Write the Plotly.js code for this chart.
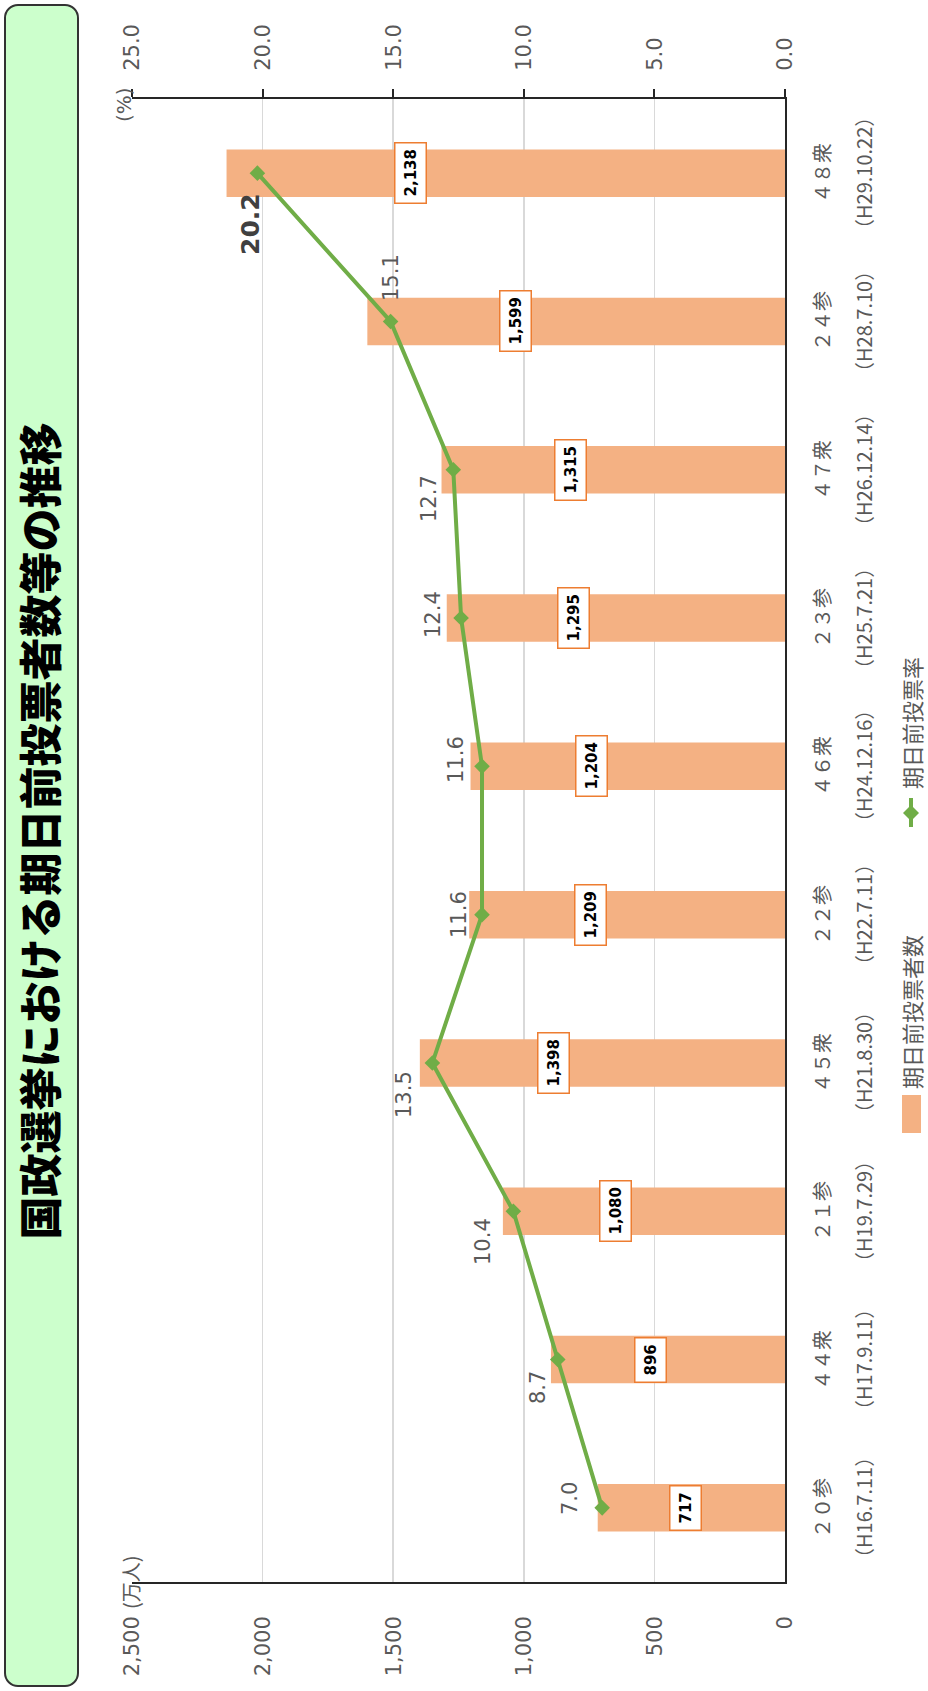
<!DOCTYPE html>
<html>
<head>
<meta charset="utf-8">
<script src="https://cdn.plot.ly/plotly-3.0.1.min.js"></script>
<style>
html,body{margin:0;padding:0;background:#fff;overflow:hidden;width:928px;height:1691px;}
#wrap{position:absolute;left:0;top:0;width:1691px;height:928px;transform-origin:0 0;transform:translate(0,1691px) rotate(-90deg);}
#tbox{position:absolute;left:4px;top:4px;width:1683px;height:75px;box-sizing:border-box;border:2px solid #333;border-radius:14px;background:#CCFFCC;}
#chart{position:absolute;left:0;top:0;width:1691px;height:928px;}
</style>
</head>
<body>
<div id="wrap">
  <div id="tbox"></div>
  <div id="chart"></div>
</div>
<script>
// ---- data ----
const categories = ['２０参','４４衆','２１参','４５衆','２２参','４６衆','２３参','４７衆','２４参','４８衆'];
const dates = ['（H16.7.11）','（H17.9.11）','（H19.7.29）','（H21.8.30）','（H22.7.11）','（H24.12.16）','（H25.7.21）','（H26.12.14）','（H28.7.10）','（H29.10.22）'];
const voters = [717, 896, 1080, 1398, 1209, 1204, 1295, 1315, 1599, 2138]; // 万人
const rates = [7.0, 8.7, 10.4, 13.5, 11.6, 11.6, 12.4, 12.7, 15.1, 20.2];   // %
const leftTicks = [0, 500, 1000, 1500, 2000, 2500];
const rightTicks = [0, 5, 10, 15, 20, 25];
const seriesNames = ['期日前投票者数', '期日前投票率'];
const titleText = '国政選挙における期日前投票者数等の推移';

// ---- layout helpers ----
const W = 1691, H = 928;
const M = {l:109, r:99, t:132, b:143};
const PW = W - M.l - M.r, PH = H - M.t - M.b;
const px = u => (u - M.l) / PW;
const py = v => (H - M.b - v) / PH;
const rateLabelShift = [[9,32],[-28,20],[-30,30],[-32,28],[0,23],[7,26],[4,28],[-29,24],[44,0],[-51,7]];

const GRAY = '#595959';
const NUMFONT = 'DejaVu Sans, sans-serif';
const JPFONT = 'Noto Sans CJK JP, sans-serif';

const traces = [
  {
    type:'bar', x:categories, y:voters, yaxis:'y', name:seriesNames[0],
    marker:{color:'#F4B183'}, width:0.32, hoverinfo:'skip', showlegend:false
  },
  {
    type:'scatter', mode:'lines+markers', x:categories, y:rates, yaxis:'y2', name:seriesNames[1],
    line:{color:'#70AD47', width:4}, marker:{symbol:'diamond', size:12, color:'#70AD47'},
    hoverinfo:'skip', showlegend:false
  }
];

const annotations = [];
// bar value labels
voters.forEach((v,i)=>{
  annotations.push({
    x:categories[i], y:0.74*v-150, xref:'x', yref:'y', showarrow:false,
    text:v.toLocaleString('en-US'),
    font:{family:NUMFONT, size:15, color:'#000', weight:'bold'},
    bgcolor:'#fff', bordercolor:'#ED7D31', borderwidth:1.5, borderpad:6
  });
});
// rate labels
rates.forEach((r,i)=>{
  const last = i === rates.length-1;
  annotations.push({
    x:categories[i], y:r, xref:'x', yref:'y2', showarrow:false,
    text:r.toFixed(1), xshift:rateLabelShift[i][0], yshift:rateLabelShift[i][1],
    font: last ? {family:NUMFONT, size:25, color:'#404040', weight:'bold'} : {family:NUMFONT, size:21, color:GRAY}
  });
});
// category labels (two lines)
categories.forEach((c,i)=>{
  annotations.push({x:c, y:0, xref:'x', yref:'paper', yanchor:'middle', yshift:-36, showarrow:false,
    text:c, font:{family:JPFONT, size:20, color:GRAY}});
  annotations.push({x:c, y:0, xref:'x', yref:'paper', yanchor:'middle', yshift:-78, showarrow:false,
    text:dates[i], font:{family:JPFONT, size:20, color:GRAY}});
});
// axis unit labels
annotations.push({x:0, y:1, xref:'paper', yref:'paper', xanchor:'center', yanchor:'middle', yshift:2, showarrow:false,
  text:'(万人)', font:{family:JPFONT, size:20, color:GRAY}});
annotations.push({x:1, y:1, xref:'paper', yref:'paper', xanchor:'center', yanchor:'middle', xshift:-6, yshift:8, showarrow:false,
  text:'(%)', font:{family:NUMFONT, size:20, color:GRAY}});
// legend texts
annotations.push({x:px(600), y:py(911), xref:'paper', yref:'paper', xanchor:'left', yanchor:'middle', showarrow:false,
  text:seriesNames[0], font:{family:JPFONT, size:22, color:GRAY}});
annotations.push({x:px(900), y:py(911), xref:'paper', yref:'paper', xanchor:'left', yanchor:'middle', showarrow:false,
  text:seriesNames[1], font:{family:JPFONT, size:22, color:GRAY}});

// legend symbols
const dc = [878, 911], dr = 8;
const shapes = [
  {type:'rect', xref:'paper', yref:'paper', x0:px(558), x1:px(596), y0:py(921), y1:py(902), fillcolor:'#F4B183', line:{width:0}},
  {type:'line', xref:'paper', yref:'paper', x0:px(864), x1:px(893), y0:py(911), y1:py(911), line:{color:'#70AD47', width:4}},
  {type:'path', xref:'paper', yref:'paper', fillcolor:'#70AD47', line:{width:0},
   path:`M${px(dc[0])},${py(dc[1]-dr)} L${px(dc[0]+dr)},${py(dc[1])} L${px(dc[0])},${py(dc[1]+dr)} L${px(dc[0]-dr)},${py(dc[1])} Z`}
];

const layout = {
  width:W, height:H, margin:M,
  paper_bgcolor:'rgba(0,0,0,0)', plot_bgcolor:'#fff',
  showlegend:false,
  title:{text:titleText, font:{family:JPFONT, size:43, color:'#000', weight:900},
    xref:'container', yref:'container', x:860/W, xanchor:'center', y:1-41.5/H, yanchor:'middle'},
  xaxis:{type:'category', range:[-0.5, 9.5], showticklabels:false, ticks:'',
    showline:true, linecolor:'#262626', linewidth:2, showgrid:false, zeroline:false, fixedrange:true},
  yaxis:{range:[0,2500], tickvals:leftTicks, ticktext:leftTicks.map(t=>t.toLocaleString('en-US')),
    showline:true, linecolor:'#262626', linewidth:2, ticks:'', ticklabelstandoff:28,
    gridcolor:'#D9D9D9', gridwidth:1.5, zeroline:false,
    tickfont:{family:NUMFONT, size:21, color:GRAY}, fixedrange:true},
  yaxis2:{range:[0,25], overlaying:'y', side:'right', tickvals:rightTicks, ticktext:rightTicks.map(t=>t.toFixed(1)),
    showline:true, linecolor:'#262626', linewidth:2, ticks:'outside', ticklen:8, tickwidth:2, tickcolor:'#262626',
    ticklabelstandoff:14, showgrid:false, zeroline:false,
    tickfont:{family:NUMFONT, size:21, color:GRAY}, fixedrange:true},
  annotations:annotations, shapes:shapes
};

Plotly.newPlot('chart', traces, layout, {displayModeBar:false, staticPlot:true, responsive:false});
</script>
</body>
</html>
